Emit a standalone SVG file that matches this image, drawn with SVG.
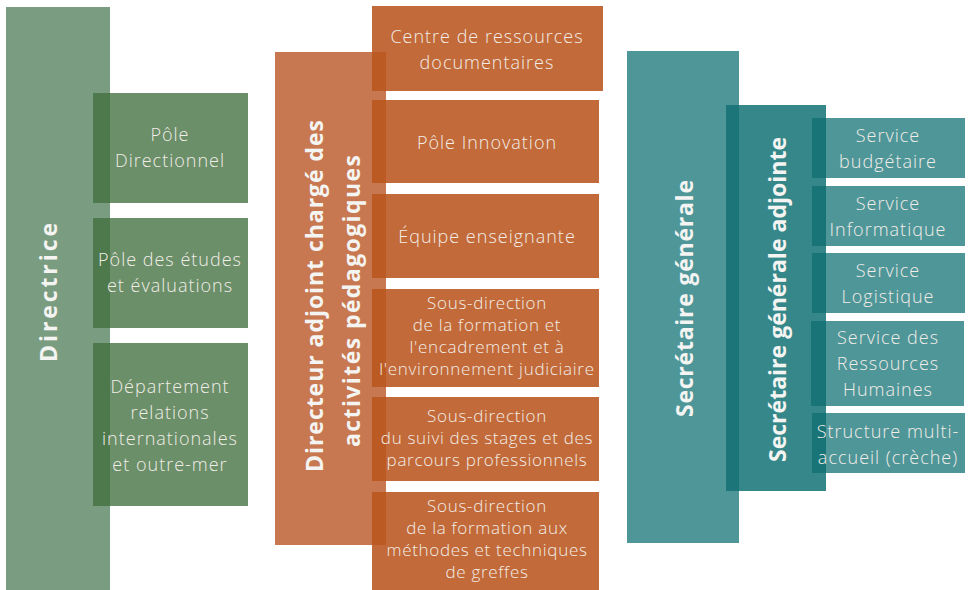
<svg xmlns="http://www.w3.org/2000/svg" width="969" height="590" viewBox="0 0 969 590">
<style>
.t{font-family:"Open Sans","Noto Sans",sans-serif;font-weight:300;font-size:18px;letter-spacing:1px;fill:#f2ede8;text-anchor:middle}
.s{font-size:17px;letter-spacing:0.7px}
.h{font-family:"Open Sans","Noto Sans",sans-serif;font-weight:700;font-size:23px;fill:#f4f4f2;text-anchor:middle}
.g0{fill:#7a9c80}
.g1{fill:#41703f;fill-opacity:0.78}
.o0{fill:#c87850}
.o1{fill:#b9551e;fill-opacity:0.88}
.b0{fill:#4f9699}
.b1{fill:#137173;fill-opacity:0.85}
</style>
<g id="directrice">
<rect class="g0" x="6" y="7" width="104" height="583"/>
<text class="h" transform="translate(57,292.5) rotate(-90)" font-size="25" textLength="139" lengthAdjust="spacing">Directrice</text>
</g>
<g id="pole-directionnel">
<rect class="g1" x="93" y="93" width="155" height="110"/>
<text class="t" x="170" y="141">Pôle</text>
<text class="t" x="170" y="167">Directionnel</text>
</g>
<g id="pole-etudes">
<rect class="g1" x="93" y="218" width="155" height="110"/>
<text class="t" x="170" y="266">Pôle des études</text>
<text class="t" x="170" y="292">et évaluations</text>
</g>
<g id="departement-ri">
<rect class="g1" x="93" y="343" width="155" height="163"/>
<text class="t" x="170" y="393">Département</text>
<text class="t" x="170" y="419">relations</text>
<text class="t" x="170" y="445">internationales</text>
<text class="t" x="170" y="471">et outre-mer</text>
</g>
<g id="directeur-adjoint">
<rect class="o0" x="275" y="52" width="111" height="493"/>
<text class="h" transform="translate(323,296) rotate(-90)" font-size="22.5" textLength="352" lengthAdjust="spacing">Directeur adjoint chargé des</text>
<text class="h" transform="translate(360,301) rotate(-90)" font-size="22.5" textLength="292" lengthAdjust="spacing">activités pédagogiques</text>
</g>
<g id="centre-ressources">
<rect class="o1" x="372" y="6" width="231" height="85"/>
<text class="t" x="487" y="43">Centre de ressources</text>
<text class="t" x="487" y="69">documentaires</text>
</g>
<g id="pole-innovation">
<rect class="o1" x="372" y="100" width="227" height="83"/>
<text class="t" x="487" y="149">Pôle Innovation</text>
</g>
<g id="equipe-enseignante">
<rect class="o1" x="372" y="194" width="227" height="84"/>
<text class="t" x="487" y="243">Équipe enseignante</text>
</g>
<g id="sd-formation-encadrement">
<rect class="o1" x="372" y="289" width="227" height="98"/>
<text class="t s" x="487" y="309">Sous-direction</text>
<text class="t s" x="487" y="331">de la formation et</text>
<text class="t s" x="487" y="353">l'encadrement et à</text>
<text class="t s" x="487" y="375">l'environnement judiciaire</text>
</g>
<g id="sd-suivi-stages">
<rect class="o1" x="372" y="397" width="227" height="84"/>
<text class="t s" x="487" y="422">Sous-direction</text>
<text class="t s" x="487" y="444">du suivi des stages et des</text>
<text class="t s" x="487" y="466">parcours professionnels</text>
</g>
<g id="sd-formation-greffes">
<rect class="o1" x="372" y="492" width="227" height="98"/>
<text class="t s" x="487" y="512">Sous-direction</text>
<text class="t s" x="487" y="534">de la formation aux</text>
<text class="t s" x="487" y="556">méthodes et techniques</text>
<text class="t s" x="487" y="578">de greffes</text>
</g>
<g id="secretaire-generale">
<rect class="b0" x="627" y="51" width="112" height="492"/>
<text class="h" transform="translate(693,298.5) rotate(-90)" font-size="24" textLength="237" lengthAdjust="spacing">Secrétaire générale</text>
</g>
<g id="secretaire-generale-adjointe">
<rect fill="#35878a" x="739" y="105" width="87" height="386"/>
<rect class="b1" x="726" y="105" width="13" height="386"/>
<text class="h" transform="translate(786,299.5) rotate(-90)" font-size="24" textLength="325" lengthAdjust="spacing">Secrétaire générale adjointe</text>
</g>
<g id="service-budgetaire">
<rect class="b0" x="826" y="118" width="139" height="60"/>
<rect class="b1" x="812" y="118" width="14" height="60"/>
<text class="t" x="888" y="142">Service</text>
<text class="t" x="888" y="168">budgétaire</text>
</g>
<g id="service-informatique">
<rect class="b0" x="826" y="186" width="139" height="60"/>
<rect class="b1" x="812" y="186" width="14" height="60"/>
<text class="t" x="888" y="210">Service</text>
<text class="t" x="888" y="236">Informatique</text>
</g>
<g id="service-logistique">
<rect class="b0" x="826" y="253" width="139" height="60"/>
<rect class="b1" x="812" y="253" width="14" height="60"/>
<text class="t" x="888" y="277">Service</text>
<text class="t" x="888" y="303">Logistique</text>
</g>
<g id="service-rh">
<rect class="b0" x="826" y="321" width="138" height="85"/>
<rect class="b1" x="811" y="321" width="15" height="85"/>
<text class="t" x="888" y="344">Service des</text>
<text class="t" x="888" y="370">Ressources</text>
<text class="t" x="888" y="396">Humaines</text>
</g>
<g id="structure-multi-accueil">
<rect class="b0" x="826" y="413" width="139" height="60"/>
<rect class="b1" x="812" y="413" width="14" height="60"/>
<text class="t" x="888" y="438">Structure multi-</text>
<text class="t" x="888" y="464">accueil (crèche)</text>
</g>
<g id="connectors"/>
</svg>
